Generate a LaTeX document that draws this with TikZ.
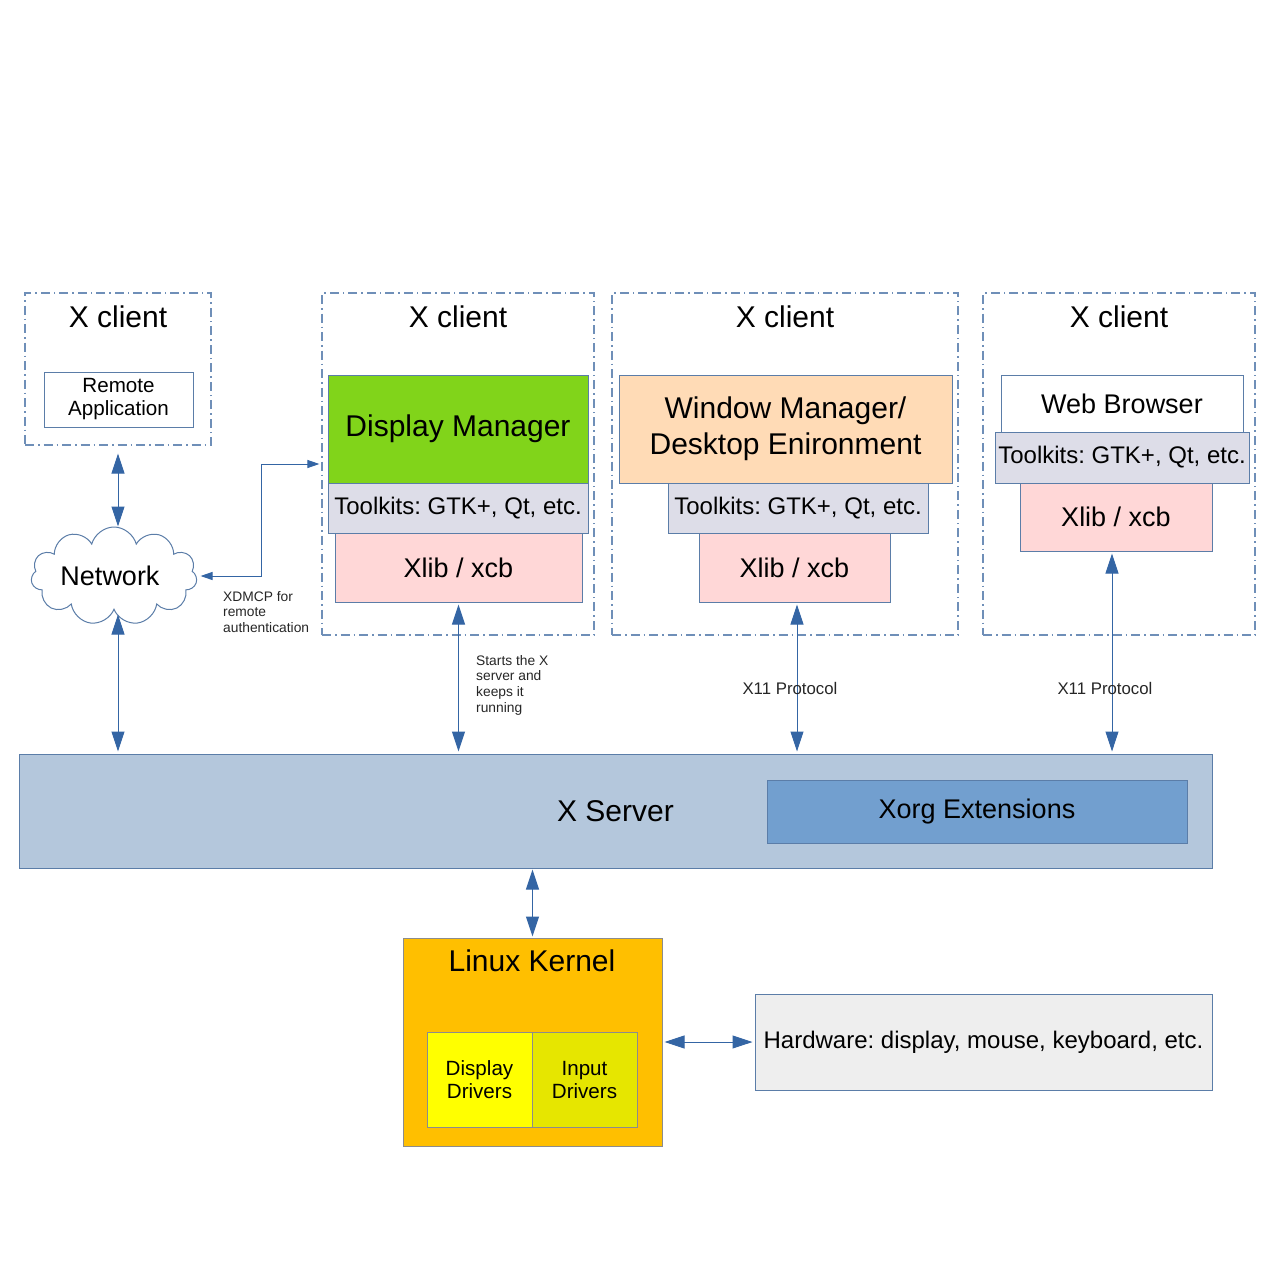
\documentclass[tikz,border=0pt]{standalone}
\usepackage{fontspec}
\setmainfont{Liberation Sans}
\usepackage{tikz}
\usetikzlibrary{arrows.meta}
\usetikzlibrary{calc}
\usetikzlibrary{shapes, shapes.symbols}
\frenchspacing

\definecolor{arrowblue}{HTML}{3465A4}
\definecolor{dashblue}{HTML}{6F8FB8}
\definecolor{edgeblue}{HTML}{5B7DA8}
\definecolor{dmgreen}{HTML}{81D41A}
\definecolor{tkgray}{HTML}{DDDDE8}
\definecolor{xlibred}{HTML}{FFD7D7}
\definecolor{wmorange}{HTML}{FFDBB6}
\definecolor{xsblue}{HTML}{B4C7DC}
\definecolor{xeblue}{HTML}{729FCF}
\definecolor{kgold}{HTML}{FFBF00}
\definecolor{ddyellow}{HTML}{FFFF00}
\definecolor{idlime}{HTML}{E6E600}
\definecolor{hwgray}{HTML}{EEEEEE}

\begin{document}
\begin{tikzpicture}[x=1pt, y=-1pt,
  cbox/.style={draw=dashblue, line width=1.2pt, dash pattern=on 9pt off 4pt on 1.5pt off 4pt, rectangle, inner sep=0},
  blk/.style={draw=edgeblue, line width=1pt, rectangle, inner sep=0, align=center},
  title/.style={inner sep=0, font=\fontsize{30}{36}\selectfont},
  big/.style={font=\fontsize{30}{36}\selectfont},
  mid/.style={font=\fontsize{27}{32}\selectfont},
  tk/.style={font=\fontsize{24}{28}\selectfont},
  sml/.style={font=\fontsize{20.6}{24}\selectfont},
  note/.style={inner sep=0, align=left, text=black!85, font=\fontsize{13.8}{15.7}\selectfont},
  dbl/.style={<->, >={Triangle[length=20pt,width=13pt]}, draw=arrowblue, line width=1pt},
  thin tip/.style={<->, >={Triangle[length=12pt,width=8pt]}, draw=arrowblue, line width=1pt}]
 \useasboundingbox (0,0) rectangle (1280,1280);

 % clients
 \node[cbox, minimum width=186pt, minimum height=152pt] (c1) at (118,369) {};
 \node[cbox, minimum width=272pt, minimum height=342pt] (c2) at (458,464) {};
 \node[cbox, minimum width=346pt, minimum height=342pt] (c3) at (785,464) {};
 \node[cbox, minimum width=272pt, minimum height=342pt] (c4) at (1119,464) {};
 \node[title] (t1) at (118,317) {X client};
 \node[title] (t2) at (458,317) {X client};
 \node[title] (t3) at (785,317) {X client};
 \node[title] (t4) at (1119,317) {X client};

 \node[blk, sml, fill=white, minimum width=149pt, minimum height=55pt] (ra) at (118.5,399.5) {Remote\\[-1pt]Application};

 \node[blk, big, fill=dmgreen, minimum width=260pt, minimum height=108pt] (dm) at (458,429) {Display Manager};
 \node[blk, tk, fill=tkgray, minimum width=260pt, minimum height=50pt] (tk2) at (458,508) {Toolkits: GTK+, Qt, etc.};
 \node[blk, mid, fill=xlibred, minimum width=247pt, minimum height=69pt] (x2) at (458.5,567.5) {Xlib / xcb};

 \node[blk, big, fill=wmorange, minimum width=333pt, minimum height=108pt] (wm) at (785.5,429) {Window Manager/\\Desktop Enironment};
 \node[blk, tk, fill=tkgray, minimum width=260pt, minimum height=50pt] (tk3) at (798,508) {Toolkits: GTK+, Qt, etc.};
 \node[blk, mid, fill=xlibred, minimum width=191pt, minimum height=69pt] (x3) at (794.5,567.5) {Xlib / xcb};

 \node[blk, mid, fill=white, minimum width=242pt, minimum height=57pt] (wb) at (1122,403.5) {Web Browser};
 \node[blk, tk, fill=tkgray, minimum width=254pt, minimum height=51pt] (tk4) at (1122,457.5) {Toolkits: GTK+, Qt, etc.};
 \node[blk, mid, fill=xlibred, minimum width=192pt, minimum height=68pt] (x4) at (1116,517) {Xlib / xcb};

 % network
 \node[cloud, cloud puffs=11, cloud ignores aspect, draw=edgeblue, line width=1pt, fill=white, mid,
       minimum width=166pt, minimum height=98pt, inner sep=0] (net) at (114,576) {Network\hspace*{8pt}};

 % server
 \node[blk, big, fill=xsblue, minimum width=1193pt, minimum height=114pt] (xs) at (615.5,811) {X Server};
 \node[blk, mid, fill=xeblue, minimum width=420pt, minimum height=63pt] (xe) at (977,811.5) {Xorg Extensions};

 % kernel
 \node[blk, draw=black!45, fill=kgold, minimum width=259pt, minimum height=208pt] (lk) at (532.5,1042) {};
 \node[title] (lkt) at (532,961) {Linux Kernel};
 \node[blk, sml, draw=black!45, fill=ddyellow, minimum width=105pt, minimum height=95pt] (dd) at (479.5,1079.5) {Display\\[-1pt]Drivers};
 \node[blk, sml, draw=black!45, fill=idlime, minimum width=105pt, minimum height=95pt] (id) at (584.5,1079.5) {Input\\[-1pt]Drivers};
 \node[blk, tk, fill=hwgray, minimum width=457pt, minimum height=96pt] (hw) at (983.5,1042) {Hardware: display, mouse, keyboard, etc.};

 % connectors
 \draw[dbl, shorten <=8pt] (c1.south) -- (c1.south |- net.north);
 \draw[dbl, shorten <=4pt, shorten >=2pt] (c1.south |- net.south) -- (c1.south |- xs.north);
 \draw[thin tip, shorten <=4pt] (net.east) -- ++(65,0) |- ([xshift=-2pt]c2.west);
 \draw[dbl, shorten <=2pt, shorten >=2pt] (x2.south) -- (x2.south |- xs.north);
 \draw[dbl, shorten <=2pt, shorten >=2pt] ([xshift=2.5pt]x3.south) -- ([xshift=2.5pt]x3.south |- xs.north);
 \draw[dbl, shorten <=2pt, shorten >=2pt] ([xshift=-4pt]x4.south) -- ([xshift=-4pt]x4.south |- xs.north);
 \draw[dbl, shorten <=1pt, shorten >=1pt] (xs.south -| lk.north) -- (lk.north);
 \draw[dbl, shorten <=2pt, shorten >=2pt] (lk.east) -- (lk.east -| hw.west);

 % labels
 \node[note, anchor=north west] (xdmcp) at (223,591) {XDMCP for\\remote\\authentication};
 \node[note, anchor=north west] (starts) at (476,655) {Starts the X\\server and\\keeps it\\running};
 \node[note, font=\fontsize{16.8}{20}\selectfont] (p3) at (790,688) {X11 Protocol};
 \node[note, font=\fontsize{16.8}{20}\selectfont] (p4) at (1105,688) {X11 Protocol};
\end{tikzpicture}
\end{document}
